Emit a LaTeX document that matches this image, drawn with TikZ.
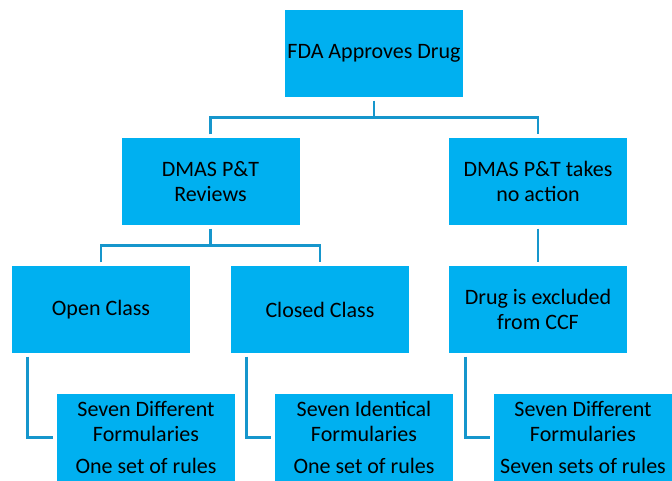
\documentclass[tikz,border=0pt]{standalone}
\usepackage{fontspec}
\setmainfont{Carlito}
\usetikzlibrary{calc}
\definecolor{boxblue}{RGB}{0,176,240}
\definecolor{lineblue}{RGB}{22,150,204}
\begin{document}
\begin{tikzpicture}[x=0.75pt,y=-0.75pt,
  box/.style={fill=boxblue,draw=none,minimum width=133.5pt,minimum height=65.25pt,
    inner sep=0pt,align=center,font=\fontsize{16.5}{18.5}\selectfont,text=black},
  conn/.style={draw=lineblue,line width=1.9pt}]
\useasboundingbox (0,0) rectangle (672,481);
\node[box] (fda) at (374,53.5) {FDA Approves Drug};
\node[box] (rev) at (210.5,181.5) {DMAS P\&T\\Reviews};
\node[box] (noact) at (538,181.5) {DMAS P\&T takes\\no action};
\node[box] (open) at (101,309.5) {Open Class};
\node[box] (closed) at (320,309.5) {Closed Class};
\node[box] (drug) at (538,309.5) {Drug is excluded\\from CCF};
\node[box] (b1) at (146,437.5) {Seven Different\\Formularies\\[6pt]One set of rules};
\node[box] (b2) at (364,437.5) {Seven Identical\\Formularies\\[6pt]One set of rules};
\node[box] (b3) at (583,437.5) {Seven Different\\Formularies\\[6pt]Seven sets of rules};
\coordinate (j1) at ($(fda.south)+(0,20)$);
\coordinate (j2) at ($(rev.south)+(0,20)$);
\draw[conn,shorten <=2.5pt] (fda.south) -- (j1);
\draw[conn,shorten <=2.5pt,shorten >=2.5pt] (rev.north) |- (j1) -| (noact.north);
\draw[conn,shorten <=2.5pt] (rev.south) -- (j2);
\draw[conn,shorten <=2.5pt,shorten >=2.5pt] (open.north) |- (j2) -| (closed.north);
\draw[conn,shorten <=2.5pt,shorten >=2.5pt] (noact.south) -- (drug.north);
\draw[conn,shorten <=2.5pt,shorten >=2.5pt] ($(open.south west)+(16,0)$) |- (b1.west);
\draw[conn,shorten <=2.5pt,shorten >=2.5pt] ($(closed.south west)+(16,0)$) |- (b2.west);
\draw[conn,shorten <=2.5pt,shorten >=2.5pt] ($(drug.south west)+(17,0)$) |- (b3.west);
\end{tikzpicture}
\end{document}
